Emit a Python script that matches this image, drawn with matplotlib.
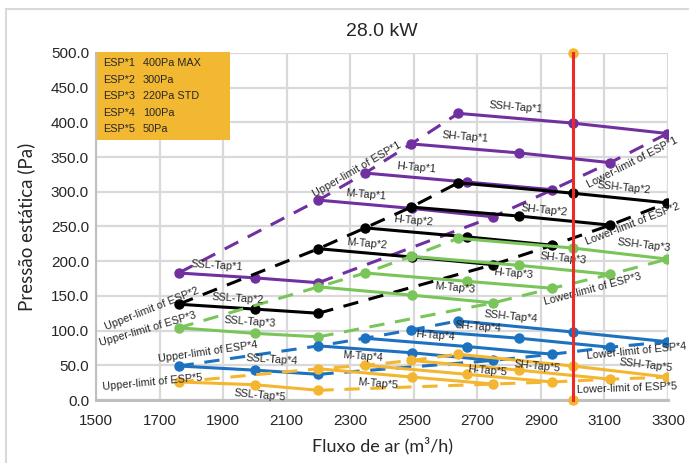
import numpy as np
import matplotlib
matplotlib.use("Agg")
import matplotlib.pyplot as plt
from matplotlib.patches import Rectangle

# airflow (m3/h) of the 3 points of each fan tap, same for every ESP level
x_ssl = [1760, 2000, 2200]
x_m = [2200, 2495, 2750]
x_h = [2347, 2668, 2936]
x_sh = [2492, 2832, 3118]
x_ssh = [2640, 3000, 3298]

# static pressure (Pa) per ESP level, taps SSL, M, H, SH, SSH
esp1 = [[183, 176, 169], [288, 276, 264], [327, 314, 303], [369, 356, 342], [413, 399, 384]]
esp2 = [[138, 131, 125], [218, 206, 195], [248, 235, 223], [278, 265, 252], [313, 298, 284]]
esp3 = [[104, 96, 91], [163, 151, 140], [183, 171, 161], [207, 194, 181], [233, 219, 203]]
esp4 = [[49, 43, 37], [78, 68, 57], [89, 77, 66], [101, 89, 76], [114, 98, 84]]
esp5 = [[26, 22, 14], [45, 33, 23], [50, 37, 26], [57, 43, 30], [66, 49, 33]]

tap_names = ["SSL", "M", "H", "SH", "SSH"]
esp_names = ["ESP*1", "ESP*2", "ESP*3", "ESP*4", "ESP*5"]
esp_desc = ["400Pa MAX", "300Pa", "220Pa STD", "100Pa", "50Pa"]
rated_flow = 3000
x_ticks = list(range(1500, 3301, 200))
y_ticks = list(range(0, 501, 50))

colors = ["#7030a0", "#000000", "#7ac55a", "#1d72c0", "#f4b630"]

# label placement: (position along tap line in segments, offset up in points)
tap_lab = [
    [(0.5, 7), (0.5, 7), (0.5, 7), (0.5, 8), (0.5, 8)],
    [(0.77, 7), (0.52, 7), (0.47, 8), (1.27, 6), (1.54, 8)],
    [(0.93, 8), (1.53, 8), (1.54, 8), (1.48, 8), (1.75, 8)],
    [(1.27, 8), (0.47, -5), (0.69, 6), (0.62, 6), (0.46, 7)],
    [(1.08, -7), (0.63, -7), (1.235, 4), (1.2, 4), (1.77, 7)],
]
# upper-limit label: (anchor tap index, offset pts), lower: offset from last point
up_lab = [(1, (28, 22)), (0, (-19, -3)), (0, (-22, -1)), (0, (21, 10)), (0, (-19, 0))]
low_lab = [(-25, -21), (-25, -15), (-54, -22), (-22, -7), (-29, -8)]

xs = [x_ssl, x_m, x_h, x_sh, x_ssh]
esps = [esp1, esp2, esp3, esp4, esp5]

fig = plt.figure(figsize=(6.89, 4.63), dpi=100)
fig.patches.append(Rectangle((6 / 689, -0.01), 1.0, 1 - 9 / 463 + 0.01, transform=fig.transFigure,
                             fill=False, edgecolor="#d9d9d9", linewidth=1.5))
ax = fig.add_axes([96 / 689, 63 / 463, 572 / 689, 347 / 463])
ax.set_xlim(1500, 3300)
ax.set_ylim(0, 500)


def seg_angle(p0, p1):
    a = ax.transData.transform(p0)
    b = ax.transData.transform(p1)
    return np.degrees(np.arctan2(b[1] - a[1], b[0] - a[0]))


def point_on(xv, yv, t):
    i = min(int(t), len(xv) - 2)
    f = t - i
    return (xv[i] + f * (xv[i + 1] - xv[i]), yv[i] + f * (yv[i + 1] - yv[i])), i


small = dict(family="Liberation Sans", fontsize=7.8, color="#262626", ha="center", va="center")

for k, (esp, c) in enumerate(zip(esps, colors)):
    n = k + 1
    ups = [tap[0] for tap in esp]
    lows = [tap[-1] for tap in esp]
    upx = [xv[0] for xv in xs]
    lowx = [xv[-1] for xv in xs]
    ax.plot(upx, ups, color=c, lw=2.2, ls=(0, (5, 3.5)), zorder=2 + k)
    ax.plot(lowx, lows, color=c, lw=2.2, ls=(0, (5, 3.5)), zorder=2 + k)
    for j, (xv, yv) in enumerate(zip(xs, esp)):
        ax.plot(xv, yv, color=c, lw=2.2, marker="o", ms=6.5, zorder=3 + k)
        t, dy = tap_lab[k][j]
        p, i = point_on(xv, yv, t)
        ang = seg_angle((xv[i], yv[i]), (xv[i + 1], yv[i + 1]))
        ax.annotate(f"{tap_names[j]}-Tap*{n}", p, xytext=(0, dy), textcoords="offset points",
                    rotation=ang, zorder=10, **small)
    # limit labels
    ti, off = up_lab[k]
    ang = seg_angle((upx[ti], ups[ti]), (upx[ti + 1], ups[ti + 1]))
    ax.annotate(f"Upper-limit of ESP*{n}", (upx[ti], ups[ti]), xytext=off, textcoords="offset points",
                rotation=ang, zorder=10, **small)
    ang = seg_angle((lowx[-2], lows[-2]), (lowx[-1], lows[-1]))
    ax.annotate(f"Lower-limit of ESP*{n}", (lowx[-1], lows[-1]), xytext=low_lab[k], textcoords="offset points",
                rotation=ang, zorder=10, **small)

# rated airflow line
ax.plot([rated_flow, rated_flow], [0, 500], ls="none", marker="o", ms=6.5, color="#f4b630",
        clip_on=False, zorder=11)
ax.plot([rated_flow, rated_flow], [0, 500], color="#ee2a24", lw=2.2, clip_on=False, zorder=12)

# ESP box
ax.add_patch(Rectangle((0.002, 0.749), 0.232, 0.255, transform=ax.transAxes, facecolor="#f3b832",
                       edgecolor="none", clip_on=False, zorder=13))
for i, (nm, ds) in enumerate(zip(esp_names, esp_desc)):
    yy = (400 - (63 + i * 16.6)) / 347
    ax.text(0.012, yy, nm, transform=ax.transAxes, family="Liberation Sans", fontsize=7.8,
            color="#262626", va="center", zorder=14)
    ax.text(0.082, yy, ds, transform=ax.transAxes, family="Liberation Sans", fontsize=7.8,
            color="#262626", va="center", zorder=14)

ax.set_xticks(x_ticks)
ax.set_yticks(y_ticks)
ax.set_yticklabels([f"{v:.1f}" for v in y_ticks])
ax.grid(True, color="#d9d9d9", lw=1.6)
ax.set_axisbelow(True)
ax.tick_params(length=0, labelsize=11, colors="#262626")
ax.tick_params(axis="x", pad=10)
ax.tick_params(axis="y", pad=5)
for lab in ax.get_xticklabels() + ax.get_yticklabels():
    lab.set_family("Liberation Sans")
for s in ["top", "right"]:
    ax.spines[s].set_visible(False)
ax.spines["left"].set_color("#bfbfbf")
ax.spines["left"].set_linewidth(1.5)
ax.spines["bottom"].set_color("#bfbfbf")
ax.spines["bottom"].set_linewidth(2.2)

ax.set_title("28.0 kW", family="Liberation Sans", fontsize=14, color="#262626", pad=12)
ax.set_xlabel("Fluxo de ar (m³/h)", family="Lato", fontsize=13, color="#262626")
ax.set_ylabel("Pressão estática (Pa)", family="Lato", fontsize=13.5, color="#262626")
ax.xaxis.set_label_coords(0.5, -0.105)
ax.yaxis.set_label_coords(-0.107, 0.5)

fig.savefig("out.png", dpi=100)
